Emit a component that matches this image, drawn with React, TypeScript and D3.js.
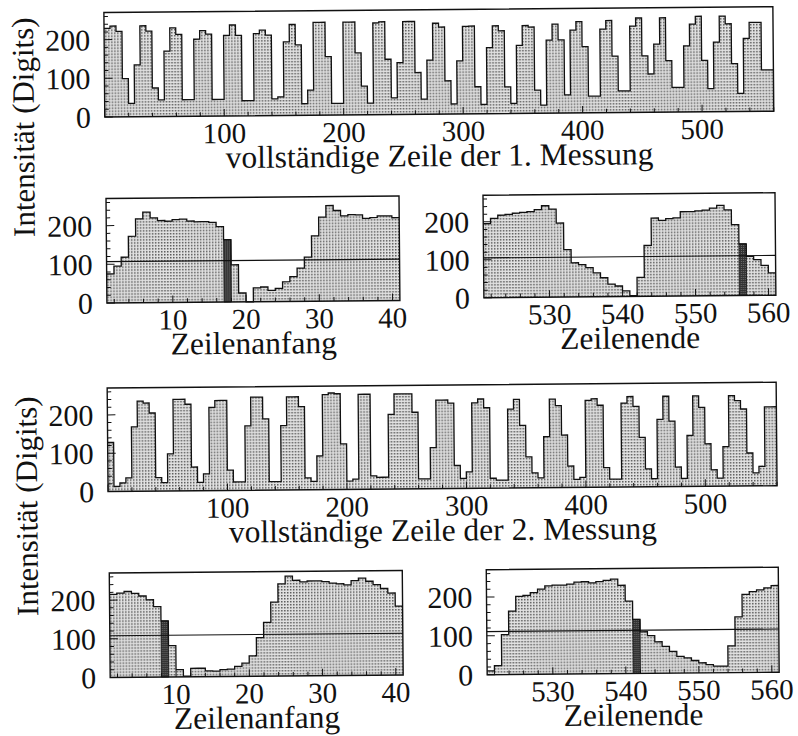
import React from "react";
import * as d3 from "d3";

const WIDTH = 798;
const HEIGHT = 736;
const Y_MAX = 270;

// Full line, 1st measurement: intensity per 5-pixel bin (pixels 0..560)
const line1Full = [
  229, 235, 221, 99, 35, 134, 235, 221, 74, 43,
  169, 229, 212, 43, 43, 199, 221, 212, 43, 43,
  208, 235, 208, 39, 39, 212, 221, 208, 43, 48,
  190, 235, 182, 30, 65, 240, 240, 151, 30, 30,
  240, 240, 160, 74, 30, 237, 240, 143, 43, 134,
  240, 240, 108, 39, 140, 235, 225, 86, 26, 137,
  226, 227, 70, 24, 171, 227, 214, 69, 26, 176,
  227, 223, 60, 21, 189, 230, 189, 47, 214, 236,
  171, 43, 43, 216, 238, 146, 56, 56, 223, 244,
  146, 99, 176, 244, 133, 64, 64, 171, 227, 247,
  133, 60, 180, 247, 227, 124, 47, 189, 230, 230,
  107, 107,
];

// Full line, 2nd measurement: intensity per 5-pixel bin (pixels 0..560)
const line2Full = [
  128, 13, 22, 35, 168, 235, 230, 204, 35, 22,
  97, 239, 239, 226, 62, 22, 44, 217, 235, 235,
  53, 22, 22, 168, 243, 243, 186, 22, 22, 168,
  243, 243, 217, 31, 22, 88, 248, 252, 250, 119,
  22, 27, 248, 248, 35, 31, 31, 195, 248, 248,
  248, 200, 26, 26, 107, 231, 231, 223, 60, 26,
  43, 223, 233, 210, 26, 21, 21, 206, 231, 163,
  81, 39, 26, 133, 231, 214, 137, 56, 21, 26,
  227, 231, 214, 51, 21, 21, 219, 236, 210, 129,
  47, 21, 176, 236, 171, 51, 21, 133, 236, 206,
  111, 43, 21, 103, 236, 223, 201, 86, 34, 51,
  206, 206,
];

// Line start (pixels 1..40) and line end (pixels 521..560), 1-pixel bins
const line1Start = [
  75, 95, 118, 172, 217, 234, 219, 212, 210, 214,
  215, 210, 208, 208, 206, 195, 161, 96, 23, 0,
  36, 38, 29, 34, 51, 64, 86, 114, 169, 217,
  247, 234, 220, 223, 222, 213, 215, 219, 219, 214,
];
const line1End = [
  195, 209, 217, 219, 222, 224, 226, 231, 241, 232,
  195, 125, 90, 85, 77, 63, 50, 33, 28, 15,
  2, 50, 134, 206, 200, 204, 206, 222, 222, 224,
  226, 231, 238, 226, 187, 136, 103, 94, 79, 59,
];
const line2Start = [
  215, 218, 222, 217, 210, 200, 182, 145, 81, 19,
  2, 22, 22, 15, 14, 18, 19, 26, 34, 53,
  100, 139, 191, 238, 258, 247, 243, 245, 245, 243,
  239, 237, 234, 245, 251, 243, 234, 224, 212, 178,
];
const line2End = [
  10, 23, 103, 163, 201, 203, 210, 219, 227, 229,
  229, 231, 236, 237, 234, 237, 240, 243, 227, 186,
  139, 107, 97, 81, 69, 56, 43, 39, 32, 26,
  21, 17, 17, 69, 143, 201, 208, 212, 217, 223,
];

// Edge pixel found on each side, and the threshold used to find it
const markedPixels = [17, 556, 8, 541];
const thresholds = [107, 105, 108, 111];

const fullTicks = [100, 200, 300, 400, 500];
const startTicks = [10, 20, 30, 40];
const endTicks = [530, 540, 550, 560];
const yTicks = [0, 100, 200];

const FONT = "'Liberation Serif', 'Times New Roman', serif";

type PanelSpec = {
  x: number;
  y: number;
  w: number;
  h: number;
  domain: [number, number];
  binStart: number;
  binWidth: number;
  values: number[];
  ticks: number[];
  minorStep: number;
  majorStep: number;
  title: string;
  marked?: number;
  threshold?: number;
};

const panels: PanelSpec[] = [
  { x: 107, y: 10, w: 669, h: 104.5, domain: [0, 560], binStart: 0, binWidth: 5, values: line1Full, ticks: fullTicks, minorStep: 20, majorStep: 100, title: "vollständige Zeile der 1. Messung" },
  { x: 107.5, y: 196, w: 293, h: 104.5, domain: [1, 41], binStart: 1, binWidth: 1, values: line1Start, ticks: startTicks, minorStep: 2, majorStep: 10, title: "Zeilenanfang", marked: markedPixels[0], threshold: thresholds[0] },
  { x: 484.5, y: 196, w: 292, h: 102.5, domain: [521, 561], binStart: 521, binWidth: 1, values: line1End, ticks: endTicks, minorStep: 2, majorStep: 10, title: "Zeilenende", marked: markedPixels[1], threshold: thresholds[1] },
  { x: 107, y: 385.5, w: 669, h: 103.5, domain: [0, 560], binStart: 0, binWidth: 5, values: line2Full, ticks: fullTicks, minorStep: 20, majorStep: 100, title: "vollständige Zeile der 2. Messung" },
  { x: 107.5, y: 570.5, w: 293, h: 104.5, domain: [1, 41], binStart: 1, binWidth: 1, values: line2Start, ticks: startTicks, minorStep: 2, majorStep: 10, title: "Zeilenanfang", marked: markedPixels[2], threshold: thresholds[2] },
  { x: 484.5, y: 570.5, w: 292, h: 105, domain: [521, 561], binStart: 521, binWidth: 1, values: line2End, ticks: endTicks, minorStep: 2, majorStep: 10, title: "Zeilenende", marked: markedPixels[3], threshold: thresholds[3] },
];

function Histogram({ p }: { p: PanelSpec }) {
  const x = d3.scaleLinear().domain(p.domain).range([p.x, p.x + p.w]);
  const y = d3.scaleLinear().domain([0, Y_MAX]).range([p.y + p.h, p.y]);
  const pts: [number, number][] = p.values.map((v, i) => [p.binStart + i * p.binWidth, v]);
  pts.push([p.binStart + p.values.length * p.binWidth, p.values[p.values.length - 1]]);

  const area = d3
    .area<[number, number]>()
    .x((d) => x(d[0]))
    .y0(y(0))
    .y1((d) => y(d[1]))
    .curve(d3.curveStepAfter);
  const line = d3
    .line<[number, number]>()
    .x((d) => x(d[0]))
    .y((d) => y(d[1]))
    .curve(d3.curveStepAfter);

  const yMinor = d3.range(0, Y_MAX, 20);
  const xMinor = d3.range(
    Math.ceil(p.domain[0] / p.minorStep) * p.minorStep,
    p.domain[1] + 0.001,
    p.minorStep
  );

  const markedIdx = p.marked !== undefined ? Math.round((p.marked - p.binStart) / p.binWidth) : -1;
  const bottom = p.y + p.h;

  return (
    <g>
      <path d={area(pts) || ""} fill="url(#stipple)" stroke="none" />
      {markedIdx >= 0 && (
        <rect
          x={x(p.marked!)}
          y={y(p.values[markedIdx])}
          width={x(p.marked! + p.binWidth) - x(p.marked!)}
          height={y(0) - y(p.values[markedIdx])}
          fill="url(#darkStipple)"
          stroke="#111"
          strokeWidth={0.8}
        />
      )}
      <path d={line(pts) || ""} fill="none" stroke="#111" strokeWidth={1.3} />
      {p.threshold !== undefined && (
        <line x1={p.x} x2={p.x + p.w} y1={y(p.threshold)} y2={y(p.threshold)} stroke="#111" strokeWidth={1.1} />
      )}
      {/* inward ticks on the left axis */}
      {yMinor.map((v) => {
        const major = v % 100 === 0;
        return (
          <line key={"yt" + v} x1={p.x} x2={p.x + (major ? 8 : 4)} y1={y(v)} y2={y(v)} stroke="#111" strokeWidth={1} />
        );
      })}
      {/* inward ticks on the bottom axis */}
      {xMinor.map((v) => {
        const major = Math.abs(v % p.majorStep) < 1e-6;
        return (
          <line key={"xt" + v} x1={x(v)} x2={x(v)} y1={bottom} y2={bottom - (major ? 7 : 4)} stroke="#111" strokeWidth={1} />
        );
      })}
      <rect x={p.x} y={p.y} width={p.w} height={p.h} fill="none" stroke="#111" strokeWidth={1.4} />
      {yTicks.map((v) => (
        <text key={"yl" + v} x={p.x - 14} y={y(v)} dy="0.35em" textAnchor="end" fontSize={30} fontFamily={FONT} fill="#111">
          {v}
        </text>
      ))}
      {p.ticks.map((v) => (
        <text key={"xl" + v} x={x(v)} y={bottom + 27} textAnchor="middle" fontSize={29} fontFamily={FONT} fill="#111">
          {v}
        </text>
      ))}
      <text x={p.x + p.w / 2} y={bottom + 52} textAnchor="middle" fontSize={31.5} fontFamily={FONT} fill="#111">
        {p.title}
      </text>
    </g>
  );
}

export default function App() {
  return (
    <svg
      width={WIDTH}
      height={HEIGHT}
      viewBox={`0 0 ${WIDTH} ${HEIGHT}`}
      style={{ position: "absolute", left: 0, top: 0, background: "#fff" }}
    >
      <defs>
        <pattern id="stipple" width={3} height={3} patternUnits="userSpaceOnUse">
          <rect width={3} height={3} fill="#e2e2e2" />
          <rect width={1.5} height={1.5} fill="#585858" />
        </pattern>
        <pattern id="darkStipple" width={2} height={2} patternUnits="userSpaceOnUse">
          <rect width={2} height={2} fill="#333" />
          <rect width={1} height={1} fill="#6a6a6a" />
        </pattern>
      </defs>
      <rect width={WIDTH} height={HEIGHT} fill="#fff" />
      <g transform="rotate(-0.5 399 368)">
        {panels.map((p, i) => (
          <Histogram key={i} p={p} />
        ))}
        <text transform="translate(36,124) rotate(-90)" textAnchor="middle" fontSize={31} fontFamily={FONT} fill="#111">
          Intensität (Digits)
        </text>
        <text transform="translate(36,503) rotate(-90)" textAnchor="middle" fontSize={31} fontFamily={FONT} fill="#111">
          Intensität (Digits)
        </text>
      </g>
    </svg>
  );
}
